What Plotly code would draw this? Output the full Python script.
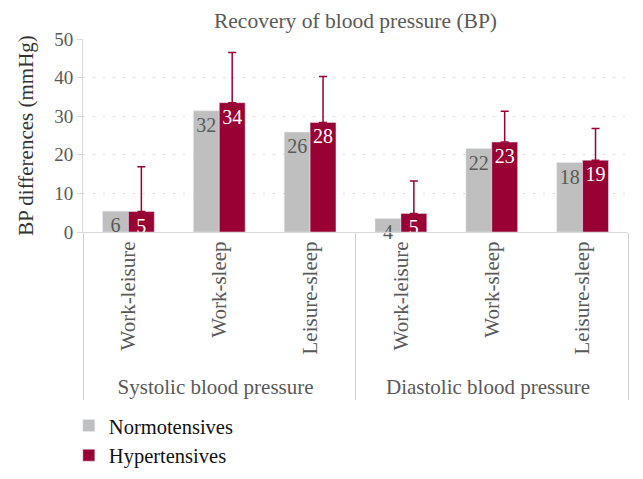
import plotly.graph_objects as go

groups = ["Systolic blood pressure"] * 3 + ["Diastolic blood pressure"] * 3
periods = ["Work-leisure", "Work-sleep", "Leisure-sleep"] * 2

normo = [5.4, 31.4, 25.9, 3.5, 21.6, 18.0]
normo_labels = ["6", "32", "26", "4", "22", "18"]
hyper = [5.3, 33.5, 28.4, 4.8, 23.3, 18.6]
hyper_labels = ["5", "34", "28", "5", "23", "19"]
hyper_sd = [11.6, 13.0, 11.9, 8.4, 8.0, 8.2]

GRAY = "#bfbfbf"
RED = "#990033"
TXT = "#595959"
FONT = "Liberation Serif"

fig = go.Figure()
fig.add_trace(go.Bar(
    x=[groups, periods], y=normo, name="Normotensives",
    marker_color=GRAY, text=normo_labels, textposition="inside",
    insidetextanchor="end", textangle=0, cliponaxis=False,
    textfont=dict(color=TXT, size=20, family=FONT),
))
fig.add_trace(go.Bar(
    x=[groups, periods], y=hyper, name="Hypertensives",
    marker_color=RED, text=hyper_labels, textposition="inside",
    insidetextanchor="end", textangle=0, cliponaxis=False,
    textfont=dict(color="white", size=20, family=FONT),
    error_y=dict(type="data", symmetric=False, array=hyper_sd,
                 arrayminus=[0] * 6, color=RED, thickness=1.5, width=4),
))

# page body has an 8px margin, so the figure is 16px smaller than the window
fig.update_layout(
    width=627, height=463,
    margin=dict(l=75, r=7, t=31, b=239, autoexpand=False),
    paper_bgcolor="white", plot_bgcolor="white",
    font=dict(family=FONT, color=TXT, size=20),
    title=dict(text="Recovery of blood pressure (BP)", x=0.5, xref="paper", xanchor="center",
               y=0.99, yanchor="top", font=dict(size=21.5, color=TXT, family=FONT)),
    barmode="group", bargap=0.43, bargroupgap=0,
    uniformtext=dict(minsize=20, mode="show"),
    showlegend=True,
    legend=dict(orientation="v", x=-0.026, xanchor="left", y=-0.9, yanchor="top",
                font=dict(size=20.5, color="#111111", family=FONT),
                itemwidth=30, tracegroupgap=0),
)
fig.update_yaxes(
    range=[0, 50], dtick=10, showgrid=True, gridcolor="#d9d9d9",
    griddash="2px,8px", gridwidth=1, zeroline=False, automargin=False,
    showline=True, linecolor="#d9d9d9", linewidth=1,
    ticks="outside", ticklen=5, tickcolor="#d9d9d9",
    tickfont=dict(size=19, color=TXT, family=FONT),
    title=dict(text="BP differences (mmHg)", font=dict(size=21, color="#333333", family=FONT), standoff=14),
)
fig.update_xaxes(
    showline=True, linecolor="#d9d9d9", linewidth=1, automargin=False,
    tickangle=-90, tickfont=dict(size=21, color=TXT, family=FONT),
    showdividers=True, dividercolor="#d0d0d0", dividerwidth=1,
    ticks="",
)

fig.write_html("out.html")
